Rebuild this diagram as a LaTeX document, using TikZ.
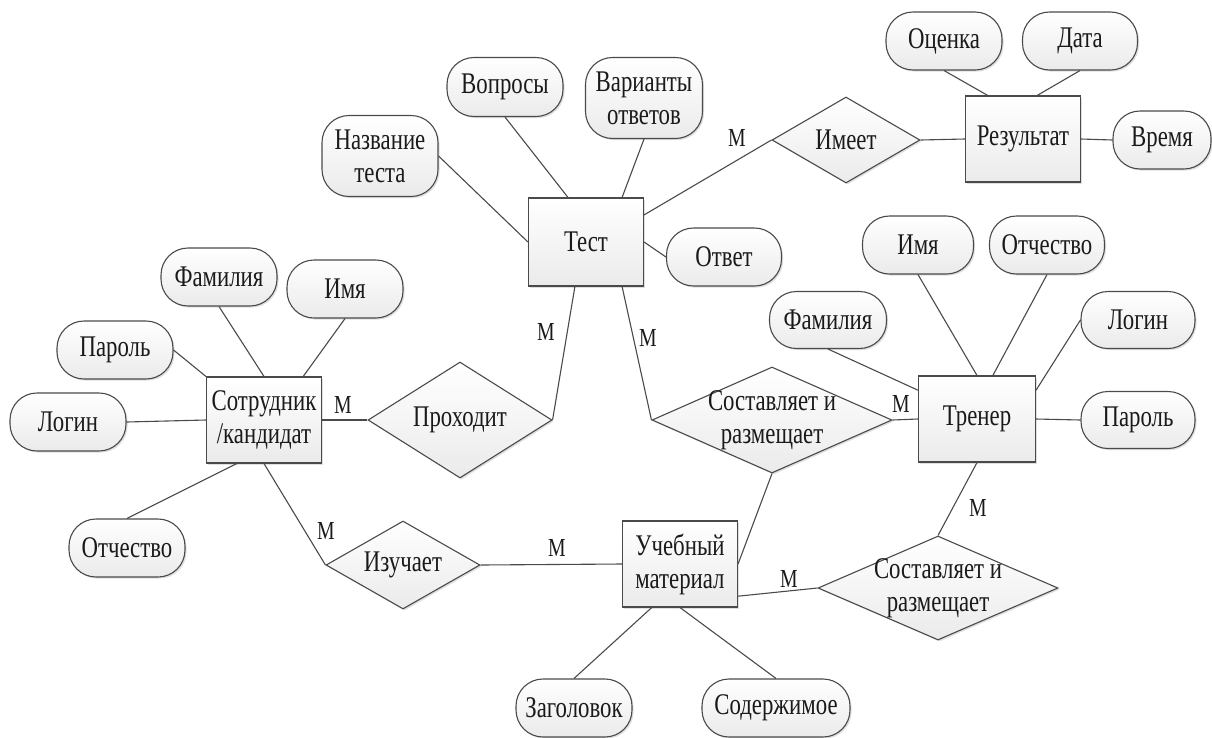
\documentclass[tikz,border=0pt]{standalone}
\usepackage{fontspec}
\setmainfont[FakeStretch=0.76]{Liberation Serif}
\usetikzlibrary{shapes.geometric,shadows}
\definecolor{linec}{HTML}{4A4A4A}
\definecolor{textc}{HTML}{1A1A1A}
\tikzset{
  every node/.style={text=textc},
  boxbase/.style={draw=linec, line width=1.1pt, top color=white, bottom color=gray!16,
    drop shadow={shadow xshift=1.6pt, shadow yshift=-1.6pt, opacity=0.25}},
  ent/.style={boxbase, rectangle, minimum width=115pt, minimum height=86pt, inner sep=2pt,
    align=center, font=\fontsize{30}{33}\selectfont},
  attr/.style={boxbase, rectangle, rounded corners=27pt, minimum width=116pt, minimum height=58pt,
    inner sep=3pt, align=center, font=\fontsize{30}{33}\selectfont},
  rel/.style={boxbase, diamond, inner sep=0pt},
  lbl/.style={align=center, inner sep=0pt, font=\fontsize{30}{33}\selectfont},
  card/.style={inner sep=0pt, font=\fontsize{26}{28}\selectfont},
  conn/.style={draw=linec, line width=1.1pt},
}
\begin{document}
\begin{tikzpicture}[x=1pt, y=-1pt]
\useasboundingbox (0,0) rectangle (1212,737);

% entities
\node[ent, minimum height=88pt] (test) at (586,242) {Тест};
\node[ent] (rez)  at (1023,139) {Результат};
\node[ent] (sotr) at (264,420) {Сотрудник\\/кандидат};
\node[ent, minimum width=117pt] (tren) at (977,419) {Тренер};
\node[ent] (uch)  at (680,564) {Учебный\\материал};

% relationships
\node[rel, minimum width=148pt, minimum height=86pt, label={[lbl]center:Имеет}] (imeet) at (846,140) {};
\node[rel, minimum width=184pt, minimum height=116pt, label={[lbl]center:Проходит}] (prohod) at (460,420) {};
\node[rel, minimum width=240pt, minimum height=106pt, label={[lbl]center:Составляет и\\размещает}] (sost1) at (772,420) {};
\node[rel, minimum width=154pt, minimum height=88pt, label={[lbl]center:Изучает}] (izuch) at (403,565) {};
\node[rel, minimum width=240pt, minimum height=104pt, label={[lbl]center:Составляет и\\размещает}] (sost2) at (938,588) {};

% attributes
\node[attr] (ocenka) at (944,41) {Оценка};
\node[attr, minimum width=115pt] (data) at (1080,41) {Дата};
\node[attr, minimum width=98pt] (vremya) at (1162,140) {Время};
\node[attr, minimum height=81pt] (nazv) at (380,156) {Название\\теста};
\node[attr, minimum height=59pt] (vopr) at (505,87) {Вопросы};
\node[attr, minimum width=117pt, minimum height=81pt] (var) at (644,98) {Варианты\\ответов};
\node[attr, minimum width=115pt] (otvet) at (724,257) {Ответ};
\node[attr] (famL)   at (219,277) {Фамилия};
\node[attr] (imyaL)  at (345,289) {Имя};
\node[attr] (parolL) at (115,350) {Пароль};
\node[attr] (loginL) at (68,422) {Логин};
\node[attr] (otchL)  at (127,548) {Отчество};
\node[attr, minimum width=111pt] (imyaR) at (918,245) {Имя};
\node[attr, minimum width=115pt] (otchR) at (1047,245) {Отчество};
\node[attr, minimum width=117pt, minimum height=57pt] (famR) at (828,320) {Фамилия};
\node[attr, minimum width=114pt, minimum height=57pt] (loginR) at (1138,320) {Логин};
\node[attr, minimum width=114pt, minimum height=57pt] (parolR) at (1138,420) {Пароль};
\node[attr] (zag) at (574,708) {Заголовок};
\node[attr, minimum width=148pt] (sod) at (776,708) {Содержимое};

% connectors
\draw[conn] (nazv.east) -- (test.west);
\draw[conn] (vopr.south) -- (test.112);
\draw[conn] (var.south) -- (test.51);
\draw[conn] (test.25) -- (imeet.west);
\draw[conn] (test.east) -- (otvet.west);
\draw[conn] (imeet.east) -- (rez.west);
\draw[conn] (rez.east) -- (vremya.west);
\draw[conn] (ocenka.south) -- (rez.129);
\draw[conn] (data.south) -- (rez.72);
\draw[conn] (test.-104) -- (prohod.east);
\draw[conn] (test.-51) -- (sost1.west);
\draw[conn] (sotr.east) -- (prohod.west);
\draw[conn] (famL.south) -- (sotr.north);
\draw[conn] (imyaL.south) -- (sotr.48);
\draw[conn] (parolL.east) -- (sotr.north west);
\draw[conn] (loginL.east) -- (sotr.west);
\draw[conn] (otchL.north) -- (sotr.-122);
\draw[conn] (sotr.south) -- (izuch.west);
\draw[conn] (izuch.east) -- (uch.west);
\draw[conn] (sost1.south) -- (uch.east);
\draw[conn] (sost1.east) -- (tren.west);
\draw[conn] (imyaR.south) -- (tren.north);
\draw[conn] (otchR.south) -- (tren.70);
\draw[conn] (famR.south) -- (tren.154);
\draw[conn] (loginR.west) -- (tren.26);
\draw[conn] (parolR.west) -- (tren.east);
\draw[conn] (tren.south) -- (sost2.north);
\draw[conn] (uch.-29) -- (sost2.west);
\draw[conn] (zag.north) -- (uch.-123);
\draw[conn] (sod.north) -- (uch.south);

% cardinalities
\node[card] (m1) at (737,138) {M};
\node[card] (m2) at (546,332) {M};
\node[card] (m3) at (648,338) {M};
\node[card] (m4) at (343,405) {M};
\node[card] (m5) at (901,404) {M};
\node[card] (m6) at (326,531) {M};
\node[card] (m7) at (557,548) {M};
\node[card] (m8) at (789,579) {M};
\node[card] (m9) at (978,508) {M};
\end{tikzpicture}
\end{document}
